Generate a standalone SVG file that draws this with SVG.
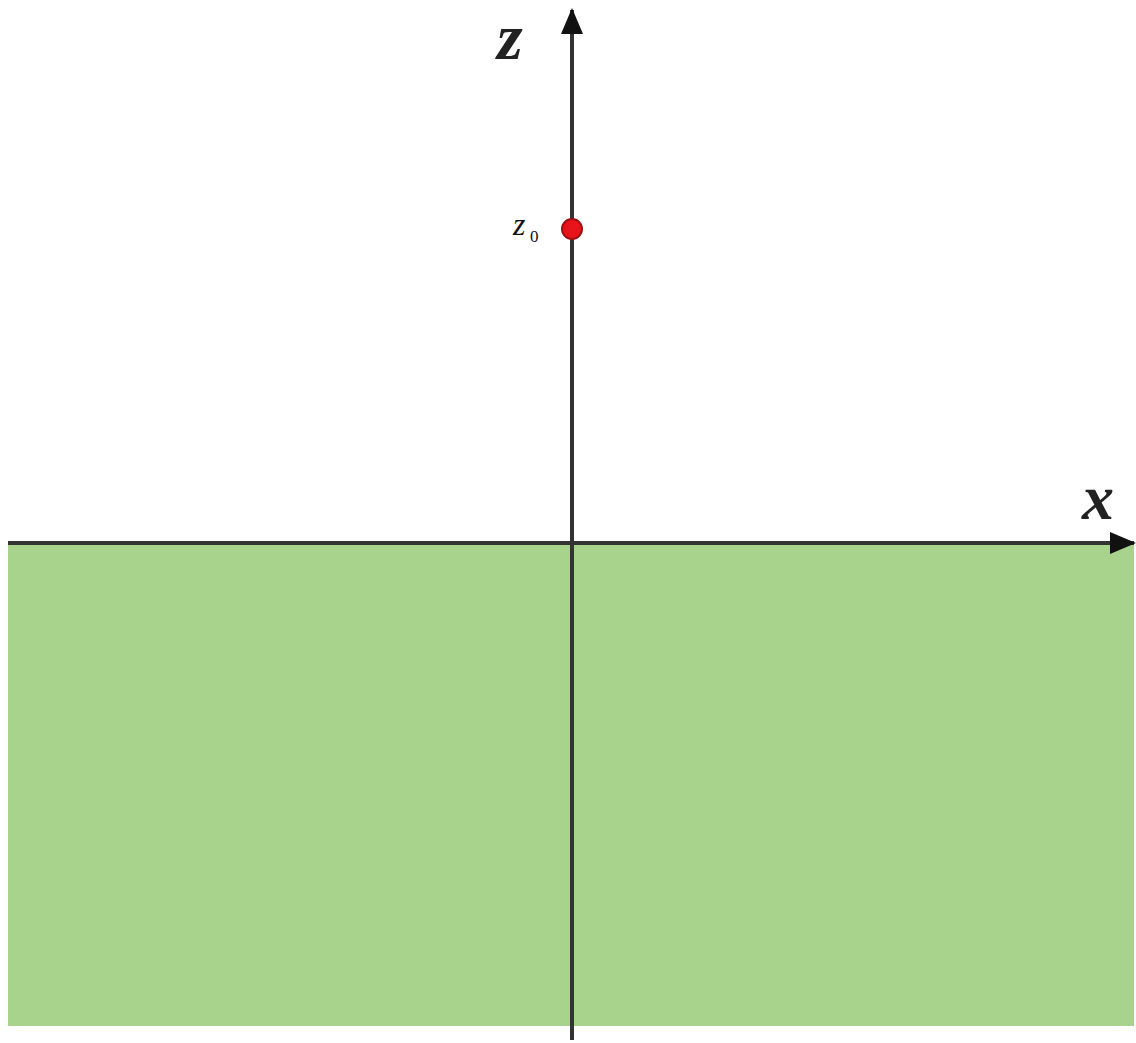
<svg xmlns="http://www.w3.org/2000/svg" width="1136" height="1043" viewBox="0 0 1136 1043">
<style>
.axis{stroke:#333;stroke-width:4;fill:none}
.lbl{font-family:"Liberation Serif",serif;font-style:italic;font-weight:bold;fill:#222}
</style>
<defs>
<marker id="arr" markerUnits="userSpaceOnUse" markerWidth="26" markerHeight="24" refX="24" refY="11" orient="auto">
<path d="M0,0 L26,11 L0,22 Z" fill="#111"/>
</marker>
</defs>
<rect width="1136" height="1043" fill="#fff"/>
<g id="ground"><rect x="8" y="544" width="1126" height="482" fill="#a8d38d"/></g>
<g id="connectors">
<line class="axis" x1="8" y1="543" x2="1134" y2="543" marker-end="url(#arr)"/>
<line class="axis" x1="572" y1="1040" x2="572" y2="10" marker-end="url(#arr)"/>
</g>
<g id="z0">
<circle cx="572" cy="229" r="10" fill="#e8141c" stroke="#a01010" stroke-width="2"/>
<text x="513" y="235" font-family="Liberation Serif,serif" font-style="italic" font-size="32" fill="#111">z</text>
<text x="530" y="242" font-family="Liberation Serif,serif" font-size="17" fill="#111">0</text>
</g>
<g id="zlabel"><text class="lbl" x="497" y="59" font-size="66">z</text></g>
<g id="xlabel"><text class="lbl" x="1082" y="519" font-size="64">x</text></g>
</svg>
